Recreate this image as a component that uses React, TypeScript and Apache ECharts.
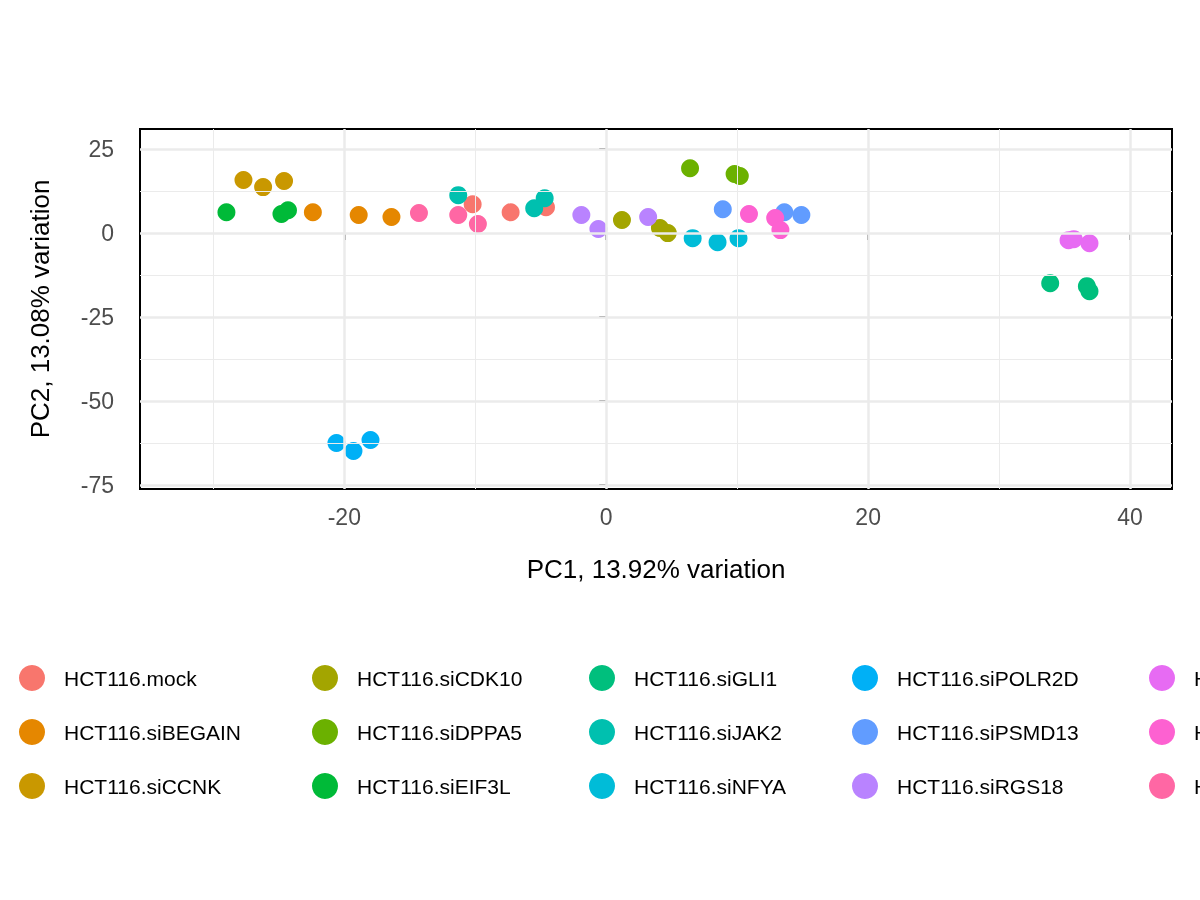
import { useRef, useEffect } from "react";
import * as echarts from "echarts";

const groups = [
  "HCT116.mock", "HCT116.siBEGAIN", "HCT116.siCCNK", "HCT116.siCDK10", "HCT116.siDPPA5",
  "HCT116.siEIF3L", "HCT116.siGLI1", "HCT116.siJAK2", "HCT116.siNFYA", "HCT116.siPOLR2D",
  "HCT116.siPSMD13", "HCT116.siRGS18", "HCT116.siSRRT", "HCT116.siTAF6", "HCT116.siZNF207",
];

const colors = [
  "#F8766D", "#E58700", "#C99800", "#A3A500", "#6BB100",
  "#00BA38", "#00BF7D", "#00C0AF", "#00BCD8", "#00B0F6",
  "#619CFF", "#B983FF", "#E76BF3", "#FD61D1", "#FF67A4",
];

// PC1, PC2 per sample
const points: number[][][] = [
  [[-10.2, 8.6], [-7.3, 6.2], [-4.6, 7.7]],
  [[-22.4, 6.2], [-18.9, 5.4], [-16.4, 4.8]],
  [[-27.7, 15.8], [-26.2, 13.7], [-24.6, 15.5]],
  [[1.2, 3.9], [4.1, 1.5], [4.7, 0]],
  [[6.4, 19.3], [9.8, 17.6], [10.2, 17]],
  [[-29, 6.2], [-24.8, 5.7], [-24.3, 6.8]],
  [[33.9, -14.9], [36.7, -15.8], [36.9, -17.3]],
  [[-11.3, 11.3], [-5.5, 7.4], [-4.7, 10.4]],
  [[6.6, -1.5], [8.5, -2.7], [10.1, -1.5]],
  [[-20.6, -62.5], [-19.3, -64.9], [-18, -61.6]],
  [[8.9, 7.1], [13.6, 6.2], [14.9, 5.4]],
  [[-1.9, 5.4], [-0.6, 1.2], [3.2, 4.8]],
  [[35.3, -2.1], [35.7, -1.8], [36.9, -3]],
  [[10.9, 5.7], [12.9, 4.5], [13.3, 0.9]],
  [[-14.3, 6], [-11.3, 5.4], [-9.8, 2.7]],
];

const xTicks = [-20, 0, 20, 40];
const yTicks = [25, 0, -25, -50, -75];
const xMinor = [-30, -10, 10, 30];
const yMinor = [12.5, -12.5, -37.5, -62.5];

const legendLefts = [14, 307, 584, 847, 1144];

export default function App() {
  const ref = useRef<HTMLDivElement>(null);

  useEffect(() => {
    if (!ref.current) return;
    const chart = echarts.init(ref.current, null, { renderer: "svg" });
    const font = "Liberation Sans, Arial, sans-serif";

    const gridLine = (axis: "xAxis" | "yAxis", vals: number[], width: number) =>
      vals.map((v) => ({ [axis]: v, lineStyle: { color: "#ebebeb", width, type: "solid" } }));

    chart.setOption({
      animation: false,
      textStyle: { fontFamily: font },
      grid: { left: 140, top: 129, width: 1032, height: 360, show: true, borderColor: "#000", borderWidth: 2, backgroundColor: "#fff" },
      xAxis: {
        type: "value", min: -35.6, max: 43.2,
        name: "PC1, 13.92% variation", nameLocation: "middle", nameGap: 67,
        nameTextStyle: { fontSize: 26, color: "#000" },
        axisLine: { show: false },
        axisTick: { show: true, inside: false, length: 7, customValues: xTicks, lineStyle: { color: "#333", width: 2 } },
        axisLabel: { customValues: xTicks, fontSize: 23, color: "#4d4d4d", margin: 16 },
        splitLine: { show: false },
      },
      yAxis: {
        type: "value", min: -76.2, max: 31,
        name: "PC2, 13.08% variation", nameLocation: "middle", nameGap: 87,
        nameTextStyle: { fontSize: 26, color: "#000" },
        axisLine: { show: false },
        axisTick: { show: true, inside: false, length: 7, customValues: yTicks, lineStyle: { color: "#333", width: 2 } },
        axisLabel: { customValues: yTicks, fontSize: 23, color: "#4d4d4d", margin: 26 },
        splitLine: { show: false },
      },
      legend: legendLefts.map((left, c) => ({
        orient: "vertical",
        left,
        top: 660,
        itemWidth: 26,
        itemHeight: 26,
        itemGap: 28,
        icon: "circle",
        data: groups.slice(c * 3, c * 3 + 3),
        textStyle: { fontSize: 21, color: "#000", padding: [0, 0, 0, 14] },
      })),
      series: [
        {
          type: "scatter",
          data: [],
          silent: true,
          z: 1,
          markLine: {
            silent: true,
            symbol: "none",
            label: { show: false },
            data: [
              ...gridLine("xAxis", xMinor, 1),
              ...gridLine("yAxis", yMinor, 1),
              ...gridLine("xAxis", xTicks, 2.5),
              ...gridLine("yAxis", yTicks, 2.5),
            ],
          },
        },
        ...groups.map((g, i) => ({
          name: g,
          type: "scatter",
          z: 3,
          symbolSize: 18,
          itemStyle: { color: colors[i], opacity: 1 },
          data: points[i],
        })),
      ],
    });

    return () => chart.dispose();
  }, []);

  return <div ref={ref} style={{ position: "fixed", left: 0, top: 0, width: 1200, height: 900 }} />;
}
